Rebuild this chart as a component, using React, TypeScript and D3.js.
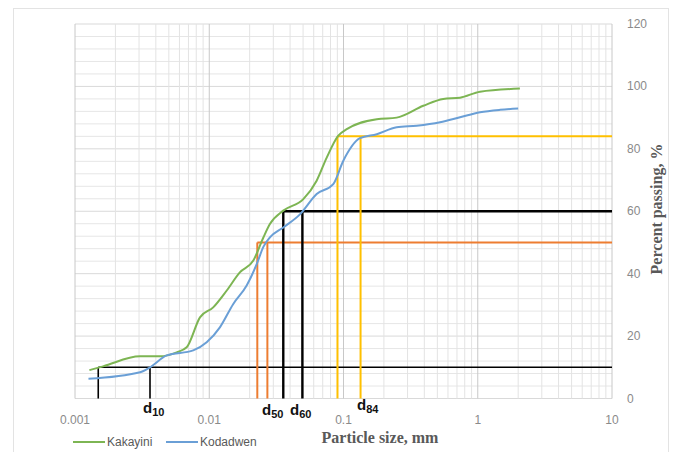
import React from "react";
import * as d3 from "d3";

// Particle-size distribution (hydrometer + sieve) for two soils
const kakayiniSize = [0.00128, 0.00162, 0.00305, 0.0043, 0.00572, 0.00679, 0.00853, 0.0107, 0.0135, 0.0169, 0.0213, 0.0253, 0.0283, 0.0356, 0.0502, 0.0631, 0.075, 0.0915, 0.1057, 0.177, 0.249, 0.393, 0.553, 0.738, 1.04, 2.06];
const kakayiniPassing = [9.1, 10.3, 13.5, 13.5, 14.8, 16.4, 26, 29.2, 34.6, 40.4, 44.2, 51.6, 55.9, 60.2, 63.9, 69.8, 77.2, 84.2, 86.3, 89.5, 90, 93.8, 96, 96.4, 98.3, 99.3];

const kodadwenSize = [0.00126, 0.00305, 0.00362, 0.00482, 0.0076, 0.00957, 0.012, 0.0151, 0.019, 0.0226, 0.0253, 0.0283, 0.0356, 0.0474, 0.0631, 0.0839, 0.0997, 0.1327, 0.177, 0.249, 0.351, 0.524, 0.738, 1.04, 1.466, 2.0];
const kodadwenPassing = [6.3, 8.4, 10, 13.8, 15.4, 18, 22.8, 30.3, 36.2, 43.1, 48.6, 51.6, 54.8, 59, 65.5, 68.7, 76.2, 83.4, 84.7, 86.9, 87.4, 88.5, 90.1, 91.7, 92.5, 92.9];

// Characteristic diameters d10, d50, d60, d84
const dPercent = [10, 50, 60, 84];
const dKakayini = [0.00149, 0.0228, 0.0356, 0.0902];
const dKodadwen = [0.00362, 0.0271, 0.0494, 0.134];
const dLabels = ["10", "50", "60", "84"];
const dColors = ["#000000", "#ED7D31", "#000000", "#FFC000"];
const dWidths = [1.6, 2, 2.4, 2];

const xTicks = [0.001, 0.01, 0.1, 1, 10];
const xTickLabels = ["0.001", "0.01", "0.1", "1", "10"];
const yTicks = [0, 20, 40, 60, 80, 100, 120];

const W = 679;
const H = 452;
const left = 75;
const right = 612;
const top = 24;
const bottom = 398.5;

export default function App() {
  const x = d3.scaleLog().domain([0.001, 10]).range([left, right]);
  const y = d3.scaleLinear().domain([0, 120]).range([bottom, top]);

  const minorX: number[] = [];
  for (let e = -3; e < 1; e++) {
    for (let m = 2; m <= 9; m++) minorX.push(m * Math.pow(10, e));
  }
  const minorY = d3.range(0, 121, 4);

  const line = d3
    .line<[number, number]>()
    .x((d) => x(d[0]))
    .y((d) => y(d[1]))
    .curve(d3.curveMonotoneX);

  const kak = kakayiniSize.map((s, i) => [s, kakayiniPassing[i]] as [number, number]);
  const kod = kodadwenSize.map((s, i) => [s, kodadwenPassing[i]] as [number, number]);

  const sans = "'Liberation Sans', Arial, sans-serif";
  const serif = "'Liberation Serif', 'Times New Roman', serif";

  const dLabelPos = [
    { x: 143, y: 413 },
    { x: 262, y: 415 },
    { x: 290, y: 415 },
    { x: 357, y: 410 },
  ];

  return (
    <svg
      width={W}
      height={H}
      style={{ position: "absolute", left: 0, top: 0, background: "#fff" }}
      fontFamily={sans}
    >
      <rect x={13.5} y={8.5} width={655} height={460} fill="#fff" stroke="#e3e3e3" />

      {/* gridlines */}
      <g>
        {minorY.map((v) => (
          <line key={"hy" + v} x1={left} x2={right} y1={y(v)} y2={y(v)} stroke={v % 20 === 0 ? "#d9d9d9" : "#e6e6e6"} strokeWidth={1} />
        ))}
        {minorX.map((v, i) => (
          <line key={"mx" + i} x1={x(v)} x2={x(v)} y1={top} y2={bottom} stroke="#e3e3e3" strokeWidth={1} />
        ))}
        {xTicks.map((v) => (
          <line key={"Mx" + v} x1={x(v)} x2={x(v)} y1={top} y2={bottom} stroke="#c8c8c8" strokeWidth={1} />
        ))}
      </g>

      {/* characteristic diameter guides */}
      <g>
        {dPercent.map((p, i) => {
          const a = dKakayini[i];
          const b = dKodadwen[i];
          return (
            <g key={"d" + p} stroke={dColors[i]} strokeWidth={dWidths[i]} fill="none">
              <line x1={x(a)} x2={x(10)} y1={y(p)} y2={y(p)} />
              <line x1={x(a)} x2={x(a)} y1={y(p)} y2={bottom} />
              <line x1={x(b)} x2={x(b)} y1={y(p)} y2={bottom} />
            </g>
          );
        })}
      </g>

      {/* gradation curves */}
      <path d={line(kak) || ""} fill="none" stroke="#7DB553" strokeWidth={2} />
      <path d={line(kod) || ""} fill="none" stroke="#6A9FD6" strokeWidth={2} />

      {/* d labels */}
      {dLabels.map((l, i) => (
        <text key={"dl" + l} x={dLabelPos[i].x} y={dLabelPos[i].y} fontWeight="bold" fontSize={15} fill="#111">
          d
          <tspan fontSize={11} dy={3}>{l}</tspan>
        </text>
      ))}

      {/* x tick labels */}
      {xTicks.map((v, i) => (
        <text key={"xt" + v} x={x(v)} y={424} textAnchor="middle" fontSize={12} fill="#8a8a8a">
          {xTickLabels[i]}
        </text>
      ))}

      {/* right y tick labels */}
      {yTicks.map((v) => (
        <text key={"yt" + v} x={627} y={y(v) + 4} fontSize={12} fill="#8a8a8a">
          {v}
        </text>
      ))}

      {/* axis titles */}
      <text x={380} y={443} textAnchor="middle" fontFamily={serif} fontWeight="bold" fontSize={16} fill="#595959">
        Particle size, mm
      </text>
      <text
        transform={`translate(662, 209) rotate(-90)`}
        textAnchor="middle"
        fontFamily={serif}
        fontWeight="bold"
        fontSize={16}
        fill="#595959"
      >
        Percent passing, %
      </text>

      {/* legend */}
      <line x1={73} x2={105} y1={442} y2={442} stroke="#7DB553" strokeWidth={2} />
      <text x={107} y={446} fontSize={12} fill="#595959">Kakayini</text>
      <line x1={166} x2={198} y1={442} y2={442} stroke="#6A9FD6" strokeWidth={2} />
      <text x={200} y={446} fontSize={12} fill="#595959">Kodadwen</text>
    </svg>
  );
}
